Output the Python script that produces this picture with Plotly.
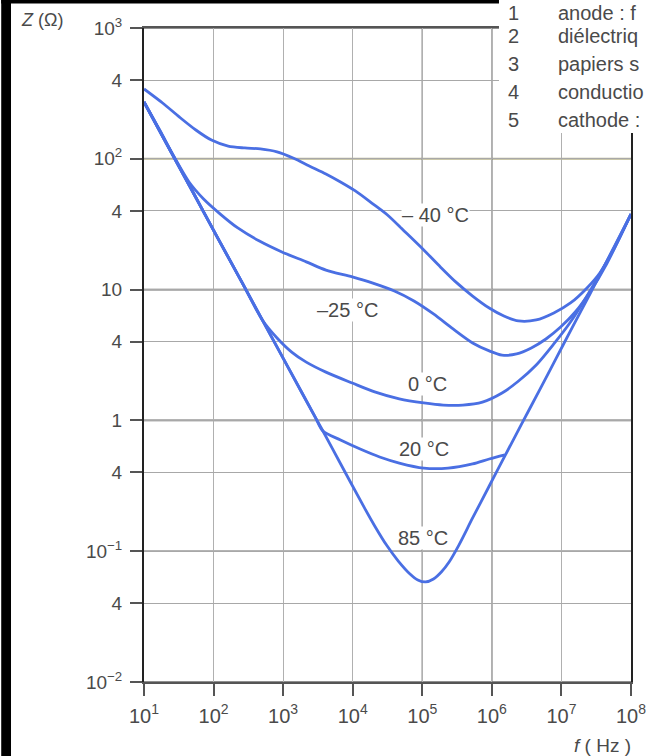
import math
import plotly.graph_objects as go

# ---------------- data ----------------
freq_m40 = [10, 18.5, 32.1, 55.6, 93.3, 162, 281, 471, 817, 1416, 2375, 4120, 6680, 1.09e4,
            1.88e4, 3.16e4, 5.48e4, 1.05e5, 1.82e5, 3.05e5, 5.29e5, 9.17e5, 1.49e6, 2.42e6,
            4.34e6, 7.77e6, 1.35e7, 2.33e7, 3.56e7, 5.78e7, 1e8]
z_m40 = [342, 267, 209, 166, 139, 125, 121, 119, 113, 101, 88.1, 76.6, 66.5, 56.8,
         45.9, 37.2, 28.1, 20.1, 14.9, 11.4, 8.93, 7.23, 6.28, 5.76,
         5.86, 6.63, 7.9, 10.3, 13.4, 20.8, 37.8]

freq_m25 = [10, 16.8, 27.3, 44.4, 71.9, 125, 223, 456, 960, 2150, 4120, 9860, 1.95e4, 3.97e4,
            7.59e4, 1.45e5, 2.77e5, 5.29e5, 9.17e5, 1.40e6, 2.27e6, 3.69e6, 5.99e6, 9.73e6,
            1.58e7, 2.57e7, 4.46e7, 1e8]
z_m25 = [272, 166, 103, 66.5, 49.3, 37.8, 29.6, 23.5, 19.4, 16.3, 14.1, 12.5, 11.2, 9.75,
         8.18, 6.51, 5.0, 3.91, 3.40, 3.16, 3.22, 3.58, 4.19, 5.17,
         6.74, 9.59, 15.7, 37.8]

freq_0 = [10, 22.4, 50.4, 113, 255, 502, 817, 1327, 2150, 4120, 9860, 2.07e4, 4.67e4, 1.05e5,
          2.0e5, 3.83e5, 7.31e5, 1.40e6, 2.42e6, 4.34e6, 7.77e6, 1.35e7, 2.33e7, 4.46e7, 1e8]
z_0 = [272, 123, 55.7, 25.2, 11.4, 5.86, 4.27, 3.33, 2.79, 2.34, 1.93, 1.65, 1.46, 1.36,
       1.31, 1.31, 1.38, 1.62, 2.0, 2.65, 3.84, 5.65, 8.93, 16.3, 37.8]

freq_20 = [10, 22.4, 50.4, 113, 255, 571, 1285, 2890, 3730, 6680, 1.28e4, 2.44e4, 4.67e4,
           1.05e5, 2.35e5, 5.29e5, 9.17e5, 1.54e6]
z_20 = [272, 123, 55.7, 25.2, 11.4, 5.17, 2.34, 1.06, 0.83, 0.708, 0.604, 0.525, 0.472,
        0.432, 0.432, 0.465, 0.507, 0.545]

freq_85 = [10, 22.4, 50.4, 113, 255, 571, 1285, 2890, 3730, 6480, 1.45e4, 2.07e4, 3.06e4,
           4.52e4, 6.66e4, 8.62e4, 1.117e5, 1.449e5, 1.877e5, 2.43e5, 3.36e5, 5.29e5, 9.17e5,
           1.54e6, 2.67e6, 4.78e6, 8.28e6, 1.44e7, 2.57e7, 4.91e7, 1e8]
z_85 = [272, 123, 55.7, 25.2, 11.4, 5.17, 2.34, 1.06, 0.83, 0.481, 0.218, 0.156, 0.1114,
        0.0841, 0.0670, 0.0603, 0.0582, 0.0613, 0.0693, 0.0827, 0.1114, 0.1795, 0.315,
        0.535, 0.937, 1.68, 2.94, 5.17, 9.25, 18.1, 37.8]

curve_labels = ["– 40 °C", "–25 °C", "0 °C", "20 °C", "85 °C"]
label_freq = [1.55e5, 8400, 1.19e5, 1.05e5, 1.01e5]
label_z = [37, 7.0, 1.9, 0.60, 0.126]

x_tickvals = [1e1, 1e2, 1e3, 1e4, 1e5, 1e6, 1e7, 1e8]
x_ticktext = ["10<sup>1</sup>", "10<sup>2</sup>", "10<sup>3</sup>", "10<sup>4</sup>",
              "10<sup>5</sup>", "10<sup>6</sup>", "10<sup>7</sup>", "10<sup>8</sup>"]
y_tickvals = [0.01, 0.04, 0.1, 0.4, 1, 4, 10, 40, 100, 400, 1000]
y_ticktext = ["10<sup>−2</sup>", "4", "10<sup>−1</sup>", "4", "1", "4", "10", "4",
              "10<sup>2</sup>", "4", "10<sup>3</sup>"]
decade_lines = [0.01, 0.1, 1, 10, 1000]

legend_nums = ["1", "2", "3", "4", "5"]
legend_texts = ["anode : f", "diélectriq", "papiers s", "conductio", "cathode :"]

# ---------------- figure ----------------
W, H = 658, 756
L, R, T, B = 144, 16, 28, 74
PW, PH = W - L - R, H - T - B


def px(xp):
    return (xp - L) / PW


def py(yp):
    return (H - B - yp) / PH


BLUE = "#4a6fe3"
TXT = "#4a4a4a"
FONT = "Liberation Sans, Arial, sans-serif"

fig = go.Figure()
for f, z in [(freq_m40, z_m40), (freq_m25, z_m25), (freq_0, z_0), (freq_20, z_20), (freq_85, z_85)]:
    fig.add_trace(go.Scatter(x=f, y=z, mode="lines",
                             line=dict(color=BLUE, width=2.8, shape="spline", smoothing=0.8),
                             showlegend=False, hoverinfo="skip"))

shapes = []
for v in decade_lines:
    shapes.append(dict(type="line", xref="paper", yref="y", x0=0, x1=1, y0=v, y1=v,
                       line=dict(color="#6a6a6a", width=1.6), layer="between"))
shapes.append(dict(type="line", xref="paper", yref="y", x0=0, x1=1, y0=100, y1=100,
                   line=dict(color="#b9b58e", width=2), layer="between"))
for v in [1e5, 1e6]:
    shapes.append(dict(type="line", xref="x", yref="paper", x0=v, x1=v, y0=0, y1=1,
                       line=dict(color="#7a7a7a", width=1.4), layer="between"))
# white box behind the legend text (top right)
shapes.append(dict(type="rect", xref="paper", yref="paper", x0=px(507), x1=px(662),
                   y0=py(133), y1=py(-4), fillcolor="white", line=dict(width=0), layer="above"))
# black scan borders
shapes.append(dict(type="rect", xref="paper", yref="paper", x0=px(-2), x1=px(8),
                   y0=py(758), y1=py(-2), fillcolor="black", line=dict(width=0), layer="above"))
shapes.append(dict(type="rect", xref="paper", yref="paper", x0=px(-2), x1=px(507),
                   y0=py(3.5), y1=py(-2), fillcolor="black", line=dict(width=0), layer="above"))

annotations = []
for t, f, z in zip(curve_labels, label_freq, label_z):
    annotations.append(dict(x=math.log10(f), y=math.log10(z), xref="x", yref="y", text=t,
                            showarrow=False, bgcolor="white", borderpad=0,
                            xanchor="center", yanchor="middle",
                            font=dict(family=FONT, size=20, color=TXT)))
annotations.append(dict(x=px(40), y=py(20), xref="paper", yref="paper", text="<i>Z</i> (Ω)",
                        showarrow=False, xanchor="center", yanchor="middle",
                        font=dict(family=FONT, size=18, color=TXT)))
annotations.append(dict(x=px(613), y=py(745), xref="paper", yref="paper", text="<i>f</i> ( Hz )",
                        showarrow=False, xanchor="center", yanchor="middle",
                        font=dict(family=FONT, size=19, color=TXT)))
legend_rows = [13, 36, 64, 92, 120]
for n, t, yy in zip(legend_nums, legend_texts, legend_rows):
    annotations.append(dict(x=px(522), y=py(yy), xref="paper", yref="paper", text=n,
                            showarrow=False, xanchor="center", yanchor="middle",
                            font=dict(family=FONT, size=20, color=TXT)))
    annotations.append(dict(x=px(565), y=py(yy), xref="paper", yref="paper", text=t,
                            showarrow=False, xanchor="left", yanchor="middle",
                            font=dict(family=FONT, size=20, color=TXT)))

fig.update_layout(
    width=W, height=H, margin=dict(l=L, r=R, t=T, b=B),
    paper_bgcolor="white", plot_bgcolor="white",
    shapes=shapes, annotations=annotations, showlegend=False,
    xaxis=dict(type="log", range=[1, 8], tickmode="array", tickvals=x_tickvals, ticktext=x_ticktext,
               ticks="outside", ticklen=12, tickwidth=1.5, tickcolor="#555",
               showgrid=True, gridcolor="#b0b0b0", gridwidth=1.3,
               showline=True, linecolor="#555", linewidth=1.6, mirror=True, zeroline=False,
               tickfont=dict(family=FONT, size=20, color=TXT), ticklabelstandoff=3),
    yaxis=dict(type="log", range=[-2, 3], tickmode="array", tickvals=y_tickvals, ticktext=y_ticktext,
               ticks="outside", ticklen=12, tickwidth=1.5, tickcolor="#555",
               showgrid=True, gridcolor="#a8a8a8", gridwidth=1.2,
               showline=True, linecolor="#222", linewidth=2, mirror=True, zeroline=False,
               tickfont=dict(family=FONT, size=19, color=TXT), ticklabelstandoff=4),
)

fig.write_html("out.html")
